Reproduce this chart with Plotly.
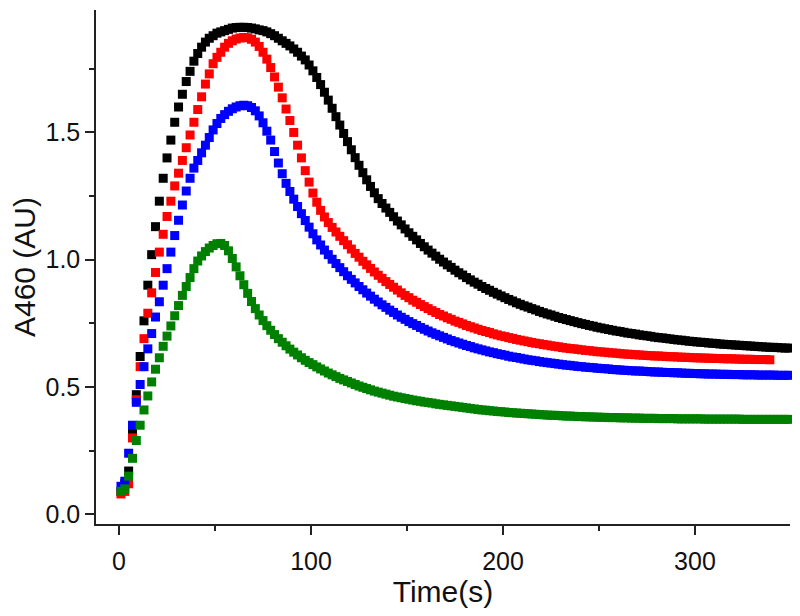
import plotly.graph_objects as go

# sampling grid: one point every 2 s
TIME = list(range(1, 350, 2))

BLACK = [
    0.09, 0.12, 0.17, 0.32, 0.47, 0.62, 0.76, 0.90, 1.02, 1.13,
    1.23, 1.32, 1.40, 1.47, 1.54, 1.60, 1.65, 1.70, 1.74, 1.78,
    1.81, 1.835, 1.855, 1.87, 1.88, 1.89, 1.895, 1.90, 1.905, 1.91,
    1.912, 1.913, 1.913, 1.912, 1.91, 1.907, 1.903, 1.90, 1.895, 1.888,
    1.88, 1.87, 1.86, 1.85, 1.84, 1.828, 1.815, 1.80, 1.785, 1.765,
    1.742, 1.716, 1.688, 1.658, 1.627, 1.595, 1.562, 1.529, 1.496, 1.464,
    1.432, 1.401, 1.371, 1.342, 1.314, 1.288, 1.263, 1.24, 1.221, 1.203,
    1.186, 1.169, 1.152, 1.137, 1.121, 1.106, 1.092, 1.078, 1.064, 1.051,
    1.038, 1.026, 1.014, 1.002, 0.991, 0.980, 0.970, 0.959, 0.949, 0.940,
    0.930, 0.921, 0.912, 0.904, 0.895, 0.887, 0.880, 0.872, 0.865, 0.858,
    0.851, 0.844, 0.838, 0.831, 0.825, 0.819, 0.814, 0.808, 0.803, 0.797,
    0.792, 0.787, 0.783, 0.778, 0.773, 0.769, 0.765, 0.761, 0.757, 0.753,
    0.749, 0.746, 0.742, 0.739, 0.735, 0.732, 0.729, 0.726, 0.723, 0.720,
    0.718, 0.715, 0.712, 0.710, 0.708, 0.705, 0.703, 0.701, 0.699, 0.696,
    0.694, 0.693, 0.691, 0.689, 0.687, 0.685, 0.684, 0.682, 0.680, 0.679,
    0.677, 0.676, 0.675, 0.673, 0.672, 0.671, 0.669, 0.668, 0.667, 0.666,
    0.665, 0.664, 0.663, 0.662, 0.661, 0.660, 0.659, 0.658, 0.657, 0.656,
    0.656, 0.655, 0.654, 0.653, 0.653,
]

RED = [
    0.08, 0.09, 0.12, 0.30, 0.45, 0.58, 0.69, 0.79, 0.87, 0.95,
    1.03, 1.10, 1.17, 1.23, 1.29, 1.34, 1.39, 1.44, 1.49, 1.54,
    1.59, 1.64, 1.69, 1.73, 1.77, 1.795, 1.815, 1.835, 1.85, 1.86,
    1.867, 1.871, 1.873, 1.872, 1.866, 1.855, 1.838, 1.815, 1.788, 1.755,
    1.718, 1.678, 1.636, 1.592, 1.547, 1.50, 1.45, 1.40, 1.35, 1.305,
    1.262, 1.226, 1.194, 1.168, 1.146, 1.127, 1.109, 1.092, 1.075, 1.059,
    1.042, 1.025, 1.010, 0.994, 0.980, 0.966, 0.952, 0.939, 0.927, 0.914,
    0.903, 0.892, 0.881, 0.870, 0.860, 0.851, 0.841, 0.833, 0.824, 0.816,
    0.808, 0.800, 0.793, 0.785, 0.779, 0.772, 0.766, 0.759, 0.754, 0.748,
    0.742, 0.737, 0.732, 0.727, 0.722, 0.718, 0.714, 0.709, 0.705, 0.701,
    0.698, 0.694, 0.691, 0.687, 0.684, 0.681, 0.678, 0.675, 0.672, 0.670,
    0.667, 0.665, 0.662, 0.660, 0.658, 0.655, 0.653, 0.651, 0.650, 0.648,
    0.646, 0.644, 0.643, 0.641, 0.639, 0.638, 0.637, 0.635, 0.634, 0.633,
    0.631, 0.630, 0.629, 0.628, 0.627, 0.626, 0.625, 0.624, 0.623, 0.622,
    0.622, 0.621, 0.620, 0.619, 0.619, 0.618, 0.617, 0.617, 0.616, 0.615,
    0.615, 0.614, 0.614, 0.613, 0.613, 0.612, 0.612, 0.611, 0.611, 0.611,
    0.610, 0.610, 0.609, 0.609, 0.609, 0.608, 0.608, 0.608, 0.608, 0.607,
]

BLUE = [
    0.11, 0.13, 0.24, 0.35, 0.44, 0.51, 0.58, 0.65, 0.71, 0.775,
    0.835, 0.90, 0.965, 1.03, 1.095, 1.155, 1.215, 1.27, 1.32, 1.36,
    1.39, 1.42, 1.45, 1.48, 1.51, 1.535, 1.555, 1.57, 1.583, 1.593,
    1.60, 1.605, 1.607, 1.605, 1.598, 1.585, 1.565, 1.538, 1.505, 1.47,
    1.425, 1.38, 1.338, 1.30, 1.268, 1.238, 1.209, 1.181, 1.154, 1.128,
    1.102, 1.078, 1.058, 1.038, 1.020, 1.002, 0.985, 0.969, 0.953, 0.937,
    0.923, 0.909, 0.895, 0.882, 0.869, 0.857, 0.845, 0.834, 0.823, 0.813,
    0.802, 0.793, 0.783, 0.774, 0.766, 0.757, 0.749, 0.742, 0.734, 0.727,
    0.720, 0.713, 0.707, 0.701, 0.695, 0.689, 0.683, 0.678, 0.673, 0.668,
    0.663, 0.659, 0.654, 0.650, 0.646, 0.642, 0.638, 0.635, 0.631, 0.628,
    0.625, 0.621, 0.618, 0.616, 0.613, 0.610, 0.607, 0.605, 0.603, 0.600,
    0.598, 0.596, 0.594, 0.592, 0.590, 0.588, 0.586, 0.585, 0.583, 0.581,
    0.580, 0.578, 0.577, 0.576, 0.574, 0.573, 0.572, 0.571, 0.569, 0.568,
    0.567, 0.566, 0.565, 0.564, 0.563, 0.563, 0.562, 0.561, 0.560, 0.559,
    0.559, 0.558, 0.557, 0.557, 0.556, 0.556, 0.555, 0.554, 0.554, 0.553,
    0.553, 0.552, 0.552, 0.551, 0.551, 0.551, 0.550, 0.550, 0.550, 0.549,
    0.549, 0.549, 0.548, 0.548, 0.548, 0.548, 0.547, 0.547, 0.547, 0.547,
    0.547, 0.546, 0.546, 0.546, 0.546,
]

GREEN = [
    0.09, 0.10, 0.15, 0.22, 0.29, 0.35, 0.41, 0.465, 0.52, 0.57,
    0.615, 0.66, 0.70, 0.74, 0.78, 0.82, 0.86, 0.895, 0.93, 0.965,
    0.995, 1.015, 1.032, 1.046, 1.056, 1.063, 1.064, 1.056, 1.035, 1.005,
    0.972, 0.937, 0.902, 0.868, 0.836, 0.808, 0.783, 0.761, 0.741, 0.723,
    0.706, 0.69, 0.676, 0.662, 0.649, 0.637, 0.626, 0.615, 0.605, 0.596,
    0.588, 0.579, 0.571, 0.563, 0.555, 0.548, 0.541, 0.534, 0.528, 0.522,
    0.516, 0.51, 0.504, 0.499, 0.494, 0.489, 0.484, 0.48, 0.476, 0.472,
    0.468, 0.464, 0.461, 0.458, 0.455, 0.452, 0.449, 0.446, 0.444, 0.441,
    0.439, 0.437, 0.434, 0.432, 0.43, 0.428, 0.426, 0.424, 0.422, 0.42,
    0.418, 0.416, 0.414, 0.412, 0.41, 0.409, 0.407, 0.406, 0.404, 0.403,
    0.402, 0.40, 0.399, 0.398, 0.397, 0.396, 0.395, 0.394, 0.393, 0.392,
    0.391, 0.39, 0.389, 0.389, 0.388, 0.387, 0.386, 0.386, 0.385, 0.384,
    0.384, 0.383, 0.383, 0.382, 0.382, 0.381, 0.381, 0.38, 0.38, 0.38,
    0.379, 0.379, 0.379, 0.378, 0.378, 0.378, 0.377, 0.377, 0.377, 0.377,
    0.376, 0.376, 0.376, 0.376, 0.376, 0.375, 0.375, 0.375, 0.375, 0.375,
    0.375, 0.375, 0.374, 0.374, 0.374, 0.374, 0.374, 0.374, 0.374, 0.374,
    0.374, 0.374, 0.373, 0.373, 0.373, 0.373, 0.373, 0.373, 0.373, 0.373,
    0.373, 0.373, 0.373, 0.373, 0.373,
]

X_TICKS = [0, 100, 200, 300]
Y_TICKS = [0.0, 0.5, 1.0, 1.5]

series = [
    ('black', BLACK, '#000000'),
    ('red', RED, '#ff0000'),
    ('blue', BLUE, '#0000ff'),
    ('green', GREEN, '#008000'),
]

fig = go.Figure()

for name, vals, color in series:
    fig.add_trace(go.Scatter(
        x=TIME[:len(vals)],
        y=vals,
        mode='markers',
        name=name,
        marker=dict(symbol='square', size=9, color=color, line=dict(width=0)),
        cliponaxis=False,
        showlegend=False,
    ))

FONT = 'Liberation Sans, Arial, sans-serif'
tick_font = dict(family=FONT, size=25, color='#111')
title_font = dict(family=FONT, size=30, color='#111')

# the page body adds an 8px offset, so margins are trimmed to keep the plot box in place
fig.update_layout(
    width=800,
    height=616,
    margin=dict(l=88, r=18, t=2, b=100),
    plot_bgcolor='white',
    paper_bgcolor='white',
    showlegend=False,
    xaxis=dict(
        range=[-12, 349.5],
        automargin=False,
        tickmode='array',
        tickvals=X_TICKS,
        ticks='outside',
        ticklen=9,
        tickwidth=1.5,
        tickcolor='#222',
        ticklabelstandoff=5,
        minor=dict(dtick=50, tick0=0, ticks='outside', ticklen=5, tickwidth=1.5, tickcolor='#222'),
        showline=True,
        linecolor='#222',
        linewidth=1.5,
        showgrid=False,
        zeroline=False,
        tickfont=tick_font,
        title=dict(text='Time(s)', font=title_font, standoff=0),
    ),
    yaxis=dict(
        range=[-0.038, 1.981],
        automargin=False,
        tickmode='array',
        tickvals=Y_TICKS,
        tickformat='.1f',
        ticks='outside',
        ticklen=9,
        tickwidth=1.5,
        tickcolor='#222',
        minor=dict(dtick=0.25, tick0=0, ticks='outside', ticklen=5, tickwidth=1.5, tickcolor='#222'),
        showline=True,
        linecolor='#222',
        linewidth=1.5,
        showgrid=False,
        zeroline=False,
        tickfont=tick_font,
        title=dict(text='A460 (AU)', font=title_font, standoff=8),
    ),
)

fig.write_html('out.html')
